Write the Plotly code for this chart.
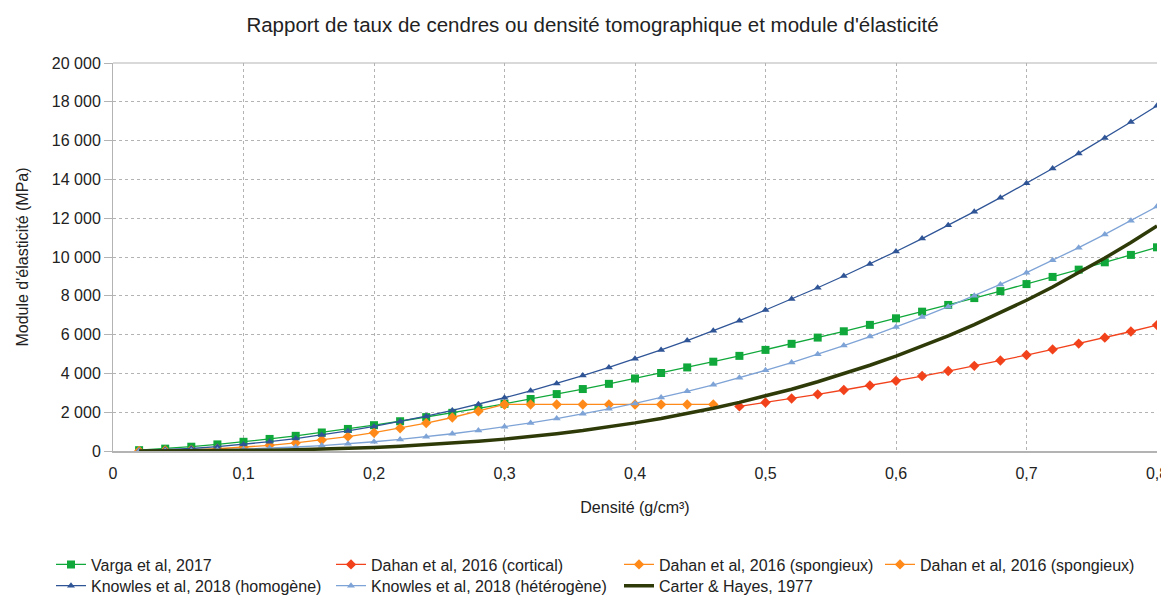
import plotly.graph_objects as go

x_all = [0.02, 0.04, 0.06, 0.08, 0.10, 0.12, 0.14, 0.16, 0.18, 0.20,
         0.22, 0.24, 0.26, 0.28, 0.30, 0.32, 0.34, 0.36, 0.38, 0.40,
         0.42, 0.44, 0.46, 0.48, 0.50, 0.52, 0.54, 0.56, 0.58, 0.60,
         0.62, 0.64, 0.66, 0.68, 0.70, 0.72, 0.74, 0.76, 0.78, 0.80]

varga = [43, 121, 221, 340, 474, 622, 782, 954, 1137, 1331,
         1534, 1746, 1967, 2196, 2434, 2680, 2934, 3194, 3462, 3738,
         4020, 4309, 4603, 4904, 5212, 5525, 5846, 6171, 6502, 6840,
         7182, 7529, 7882, 8241, 8604, 8973, 9348, 9727, 10109, 10500]

knowles_homo = [16, 59, 128, 221, 338, 479, 642, 828, 1036, 1267,
                1519, 1794, 2089, 2407, 2745, 3104, 3485, 3886, 4305, 4749,
                5212, 5694, 6198, 6720, 7268, 7831, 8414, 9019, 9642, 10285,
                10949, 11633, 12335, 13057, 13797, 14560, 15339, 16139, 16959, 17800]

knowles_hetero = [2, 11, 28, 55, 93, 143, 206, 282, 373, 478,
                  599, 735, 888, 1058, 1245, 1449, 1672, 1914, 2174, 2454,
                  2754, 3074, 3414, 3774, 4156, 4559, 4984, 5432, 5899, 6390,
                  6906, 7442, 8003, 8585, 9193, 9827, 10482, 11165, 11869, 12600]

carter = [0.2, 1.5, 4.9, 11.6, 22.7, 39.1, 62.2, 92.8, 132, 181,
          241, 313, 398, 497, 612, 742, 891, 1057, 1243, 1450,
          1678, 1930, 2205, 2506, 2832, 3186, 3568, 3979, 4420, 4894,
          5400, 5939, 6513, 7124, 7771, 8456, 9181, 9945, 10751, 11600]

x_spong1 = [0.02, 0.04, 0.06, 0.08, 0.10, 0.12, 0.14, 0.16, 0.18, 0.20,
            0.22, 0.24, 0.26, 0.28, 0.30]
dahan_spong1 = [5, 23, 59, 115, 192, 292, 416, 565, 741, 944,
                1176, 1437, 1727, 2047, 2400]

x_spong2 = [0.30, 0.32, 0.34, 0.36, 0.38, 0.40, 0.42, 0.44, 0.46]
dahan_spong2 = [2400, 2400, 2400, 2400, 2400, 2400, 2400, 2400, 2400]

x_cort = [0.48, 0.50, 0.52, 0.54, 0.56, 0.58, 0.60, 0.62, 0.64, 0.66,
          0.68, 0.70, 0.72, 0.74, 0.76, 0.78, 0.80]
dahan_cort = [2300, 2500, 2704, 2919, 3144, 3376, 3616, 3865, 4122, 4388,
              4662, 4945, 5236, 5536, 5844, 6160, 6490]

FONT = "Liberation Sans, Arial, sans-serif"
TXT = "#222222"
C_VARGA = "#10a83a"
C_CORT = "#f2421c"
C_SPONG = "#ff8a1a"
C_HOMO = "#2f5597"
C_HETERO = "#7ea3d6"
C_CARTER = "#2e3b08"
C_GRID = "#b3b3b3"

L, R, T, B = 105, 20, 55, 150
W, H = 1169, 607
pw = W - L - R
ph = H - T - B

def lx(px):
    return (px - L) / pw

def ly(py):
    return (H - B - py) / ph

# legend slots (column left px, row top px)
COLS = [43, 323, 611, 872]
ROWS = [557, 579]

fig = go.Figure()
legends = {}

def add(x, y, name, color, symbol, slot, col, row, msize=7, lw=1.3, mode="lines+markers"):
    fig.add_trace(go.Scatter(
        x=x, y=y, name=name, mode=mode,
        line=dict(color=color, width=lw),
        marker=dict(symbol=symbol, size=msize, color=color),
        legend=slot, showlegend=True,
    ))
    legends[slot] = dict(
        x=lx(COLS[col]), y=ly(ROWS[row]),
        orientation="v", yanchor="top", xanchor="left",
        font=dict(family=FONT, size=16, color=TXT),
        bgcolor="rgba(0,0,0,0)", visible=True,
        itemclick=False, itemdoubleclick=False,
    )

add(x_all, varga, "Varga et al, 2017", C_VARGA, "square", "legend", 0, 0, msize=8)
add(x_cort, dahan_cort, "Dahan et al, 2016 (cortical)", C_CORT, "diamond", "legend2", 1, 0, msize=8)
add(x_spong1, dahan_spong1, "Dahan et al, 2016 (spongieux)", C_SPONG, "diamond", "legend3", 2, 0, msize=8)
add(x_spong2, dahan_spong2, "Dahan et al, 2016 (spongieux)", C_SPONG, "diamond", "legend4", 3, 0, msize=8)
add(x_all, knowles_homo, "Knowles et al, 2018 (homogène)", C_HOMO, "triangle-up", "legend5", 0, 1)
add(x_all, knowles_hetero, "Knowles et al, 2018 (hétérogène)", C_HETERO, "triangle-up", "legend6", 1, 1)
add(x_all, carter, "Carter & Hayes, 1977", C_CARTER, "circle", "legend7", 2, 1, lw=3.5, mode="lines")

fig.update_layout(
    width=W, height=H,
    showlegend=True,
    margin=dict(l=L, r=R, t=T, b=B),
    paper_bgcolor="white", plot_bgcolor="white",
    separators=", ",
    font=dict(family=FONT, size=16, color=TXT),
    title=dict(text="Rapport de taux de cendres ou densité tomographique et module d'élasticité",
               x=0.5, xanchor="center", y=1 - 17 / H, yanchor="middle",
               font=dict(family=FONT, size=20.5, color=TXT)),
    xaxis=dict(
        range=[0, 0.8], dtick=0.1, tick0=0,
        showgrid=True, gridcolor=C_GRID, griddash="dot", gridwidth=1,
        zeroline=False, showline=True, linecolor=C_GRID, linewidth=2,
        ticks="", ticklabelstandoff=7,
        tickfont=dict(family=FONT, size=16, color=TXT),
        title=dict(text="Densité (g/cm³)", standoff=21,
                   font=dict(family=FONT, size=16, color=TXT)),
        automargin=False,
    ),
    yaxis=dict(
        range=[0, 20000], dtick=2000, tick0=0,
        showgrid=True, gridcolor=C_GRID, griddash="dot", gridwidth=1,
        zeroline=False, showline=True, linecolor=C_GRID, linewidth=1,
        ticks="outside", ticklen=8, tickcolor=C_GRID,
        separatethousands=True, tickformat=",d",
        tickfont=dict(family=FONT, size=16, color=TXT),
        title=dict(text="Module d'élasticité (MPa)", standoff=19,
                   font=dict(family=FONT, size=16, color=TXT)),
        automargin=False,
    ),
    shapes=[dict(type="line", xref="paper", yref="paper", x0=0, x1=1, y0=1, y1=1,
                 line=dict(color=C_GRID, width=1), layer="below")],
    **legends,
)

fig.write_html("out.html")
